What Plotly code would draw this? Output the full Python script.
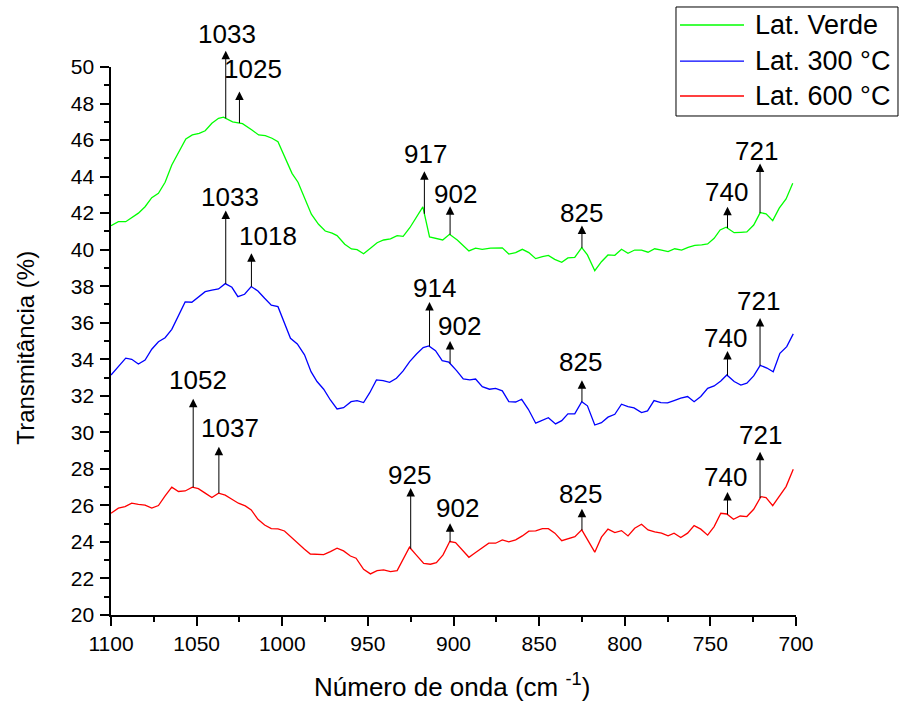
import numpy as np
import plotly.graph_objects as go

# ---------------- data ----------------
verde_x = [1100, 1095.7, 1091.4, 1087.9, 1084.0, 1080.1, 1076.2, 1072.3, 1068.4, 1064.5,
           1060.2, 1056.3, 1052.5, 1048.5, 1045.0, 1041.1, 1037.2, 1034.3, 1029.0, 1023.2,
           1017.7, 1013.8, 1009.9, 1006.0, 1002.5, 998.2, 994.3, 990.8, 987.0, 983.0,
           978.8, 974.9, 970.9, 968.0, 963.5, 959.6, 956.3, 952.5, 948.5, 944.6,
           940.8, 936.8, 932.9, 929.4, 925.5, 921.6, 917.9, 914.0, 910.1, 906.3,
           902.3, 897.8, 891.0, 887.1, 883.2, 878.4, 871.5, 867.7, 863.7, 859.8,
           856.0, 852.0, 848.1, 844.6, 840.9, 836.8, 833.2, 829.2, 825.1, 821.8,
           817.5, 813.6, 809.8, 805.8, 801.9, 798.1, 794.2, 790.2, 786.4, 782.5,
           778.5, 774.7, 770.8, 766.8, 763.0, 759.1, 755.1, 751.6, 747.8, 744.3,
           740.8, 736.1, 732.2, 728.7, 724.7, 720.9, 717.5, 713.6, 709.8, 705.8, 701.9]
verde_y = [41.31, 41.53, 41.53, 41.77, 42.00, 42.35, 42.85, 43.09, 43.69, 44.64,
           45.36, 46.06, 46.28, 46.37, 46.51, 46.92, 47.19, 47.25, 47.00, 46.90,
           46.55, 46.28, 46.24, 46.10, 45.91, 45.00, 44.18, 43.69, 42.81, 41.94,
           41.39, 41.02, 40.90, 40.77, 40.30, 40.04, 40.00, 39.78, 40.08, 40.38,
           40.53, 40.59, 40.77, 40.73, 41.20, 41.80, 42.34, 40.70, 40.62, 40.53,
           40.84, 40.53, 39.93, 40.08, 40.02, 40.08, 40.10, 39.76, 39.84, 40.02,
           39.84, 39.51, 39.62, 39.69, 39.47, 39.31, 39.55, 39.58, 40.11, 39.71,
           38.85, 39.34, 39.71, 39.69, 40.02, 39.80, 39.98, 39.97, 39.86, 40.05,
           39.98, 39.89, 40.05, 39.98, 40.13, 40.24, 40.26, 40.31, 40.62, 41.08,
           41.23, 40.93, 40.95, 40.97, 41.35, 42.03, 41.96, 41.59, 42.27, 42.78, 43.63]

c300_x = [1100, 1095.7, 1091.4, 1087.9, 1084.0, 1080.1, 1076.2, 1072.3, 1068.4, 1064.5,
          1060.6, 1056.7, 1052.8, 1049.0, 1045.0, 1041.1, 1037.2, 1033.3, 1029.4, 1025.9,
          1022.0, 1018.1, 1014.2, 1010.3, 1006.4, 1002.5, 998.7, 995.2, 991.2, 987.0,
          983.2, 979.7, 975.8, 971.9, 968.0, 964.2, 959.8, 956.3, 952.5, 948.9,
          945.0, 941.1, 937.3, 933.3, 929.4, 925.6, 921.6, 917.7, 914.4, 910.5,
          906.6, 902.7, 898.2, 894.3, 890.5, 887.1, 883.2, 879.0, 875.4, 871.5,
          867.7, 863.7, 860.2, 856.3, 852.0, 848.1, 844.6, 840.4, 836.8, 833.2,
          829.2, 825.1, 821.8, 817.5, 813.6, 809.8, 805.8, 801.9, 798.1, 794.6,
          790.2, 786.7, 782.9, 778.9, 775.0, 771.2, 767.3, 763.3, 759.5, 755.6,
          751.6, 747.8, 743.9, 740.4, 736.1, 732.2, 728.7, 724.7, 720.9, 717.0,
          713.3, 709.4, 705.4, 701.6]
c300_y = [33.14, 33.60, 34.06, 34.00, 33.74, 33.96, 34.55, 34.96, 35.18, 35.64,
          36.37, 37.14, 37.12, 37.39, 37.70, 37.79, 37.85, 38.14, 37.94, 37.43,
          37.56, 37.98, 37.74, 37.34, 36.96, 36.88, 35.97, 35.15, 34.84, 34.24,
          33.32, 32.78, 32.36, 31.77, 31.28, 31.35, 31.68, 31.74, 31.63, 32.17,
          32.87, 32.83, 32.74, 32.96, 33.36, 33.87, 34.29, 34.64, 34.73, 34.47,
          33.92, 33.84, 33.38, 32.92, 32.87, 32.92, 32.50, 32.36, 32.41, 32.27,
          31.68, 31.66, 31.81, 31.26, 30.50, 30.64, 30.80, 30.46, 30.64, 31.01,
          31.01, 31.68, 31.45, 30.40, 30.53, 30.83, 30.99, 31.54, 31.41, 31.34,
          31.08, 31.17, 31.74, 31.63, 31.61, 31.74, 31.87, 31.96, 31.68, 31.96,
          32.41, 32.54, 32.81, 33.14, 32.78, 32.59, 32.69, 33.09, 33.67, 33.52,
          33.32, 34.33, 34.69, 35.39]

c600_x = [1100, 1095.7, 1091.8, 1087.9, 1084.0, 1080.1, 1076.2, 1072.3, 1068.4, 1064.5,
          1060.6, 1056.7, 1052.5, 1049.0, 1045.0, 1041.1, 1037.2, 1033.3, 1029.4, 1025.6,
          1021.6, 1018.1, 1014.2, 1010.3, 1006.4, 1002.5, 998.7, 994.7, 990.8, 987.0,
          983.6, 979.7, 975.8, 971.9, 968.0, 964.2, 960.2, 956.9, 952.5, 948.5,
          944.6, 940.8, 936.8, 932.9, 929.4, 925.7, 921.8, 917.4, 913.5, 910.0,
          906.1, 902.2, 898.8, 894.9, 891.0, 887.1, 883.2, 879.4, 875.4, 871.5,
          867.7, 863.7, 859.8, 856.0, 852.0, 848.1, 844.6, 840.8, 836.8, 832.9,
          829.1, 825.1, 821.5, 817.5, 813.6, 809.8, 805.8, 801.9, 798.1, 794.2,
          790.2, 786.4, 782.5, 778.5, 774.7, 771.2, 767.3, 763.3, 759.5, 755.6,
          751.6, 747.8, 743.9, 740.4, 736.5, 732.6, 728.7, 724.7, 720.5, 717.5,
          713.6, 709.8, 705.8, 701.6]
c600_y = [25.57, 25.85, 25.93, 26.12, 26.06, 26.01, 25.85, 25.99, 26.52, 27.00,
          26.76, 26.79, 27.00, 26.92, 26.67, 26.43, 26.67, 26.56, 26.34, 26.12,
          25.97, 25.75, 25.24, 24.93, 24.73, 24.71, 24.60, 24.24, 23.89, 23.60,
          23.34, 23.31, 23.31, 23.47, 23.66, 23.51, 23.23, 23.11, 22.50, 22.25,
          22.43, 22.47, 22.38, 22.43, 23.05, 23.71, 23.29, 22.83, 22.78, 22.87,
          23.29, 24.02, 23.96, 23.56, 23.16, 23.42, 23.66, 23.93, 23.93, 24.11,
          24.00, 24.11, 24.33, 24.59, 24.60, 24.73, 24.73, 24.48, 24.07, 24.20,
          24.29, 24.66, 24.11, 23.44, 24.26, 24.70, 24.51, 24.62, 24.33, 24.75,
          24.97, 24.66, 24.55, 24.48, 24.33, 24.48, 24.24, 24.48, 24.89, 24.70,
          24.37, 24.84, 25.57, 25.53, 25.24, 25.42, 25.39, 25.79, 26.48, 26.43,
          25.99, 26.48, 27.03, 27.98]

series_names = ["Lat. Verde", "Lat. 300 °C", "Lat. 600 °C"]
series_colors = ["#00FF00", "#0000FF", "#FF0000"]

# peak labels per series
verde_peaks = [1033, 1025, 917, 902, 825, 740, 721]
c300_peaks = [1033, 1018, 914, 902, 825, 740, 721]
c600_peaks = [1052, 1037, 925, 902, 825, 740, 721]

# ------------- styling of the peak markers (pixels) -------------
# (arrow length, text dx, text dy above the arrow tip)
verde_style = [(69, 1, 15), (33, 14, 21), (44, 1, 16), (30, 5, 11), (24, 0, 11), (23, -1, 13), (51, -4, 11)]
c300_style = [(75, 4, 12), (35, 17, 16), (46, 5, 12), (24, 9, 14), (23, -1, 17), (26, -2, 12), (49, -2, 16)]
c600_style = [(90, 5, 17), (48, 11, 17), (62, -1, 12), (20, 7, 14), (23, -1, 13), (24, -2, 14), (48, 0, 15)]

FONT = "Liberation Sans, Arial, sans-serif"

fig = go.Figure()
all_series = [(verde_x, verde_y), (c300_x, c300_y), (c600_x, c600_y)]
for (xs, ys), name, col in zip(all_series, series_names, series_colors):
    fig.add_trace(go.Scatter(x=xs, y=ys, mode="lines", name=name,
                             line=dict(color=col, width=1.3), showlegend=False))

annotations = []
for (xs, ys), peaks, styles in zip(all_series, [verde_peaks, c300_peaks, c600_peaks],
                                   [verde_style, c300_style, c600_style]):
    xa = np.array(xs)[::-1]
    ya = np.array(ys)[::-1]
    for p, (L, dx, dy) in zip(peaks, styles):
        yv = float(np.interp(p, xa, ya))
        annotations.append(dict(x=p, y=yv, xref="x", yref="y", text="", showarrow=True,
                                ax=0, ay=-L, arrowside="start", arrowhead=2, arrowsize=1.7,
                                startarrowhead=2, startarrowsize=1.7,
                                arrowwidth=1, arrowcolor="black", standoff=0, startstandoff=0))
        annotations.append(dict(x=p, y=yv, xref="x", yref="y", text=str(p), showarrow=False,
                                xshift=dx, yshift=L + dy, xanchor="center", yanchor="middle",
                                font=dict(family=FONT, size=26, color="black")))

# axis titles
annotations.append(dict(x=-0.124, y=0.488, xref="paper", yref="paper", text="Transmitância (%)",
                        textangle=-90, showarrow=False, xanchor="center", yanchor="middle",
                        font=dict(family=FONT, size=24, color="black")))
annotations.append(dict(x=0.4978, y=-0.129, xref="paper", yref="paper",
                        text="Número de onda (cm <sup>-1</sup>)",
                        showarrow=False, xanchor="center", yanchor="middle",
                        font=dict(family=FONT, size=26, color="black")))

# legend (drawn manually to match the long line samples)
shapes = [dict(type="rect", xref="paper", yref="paper", x0=0.8248, x1=1.1489, y0=0.9106, y1=1.1095,
               line=dict(color="black", width=1), fillcolor="white", layer="above")]
legend_rows = [1.0766, 1.0109, 0.9471]
for name, col, yy in zip(series_names, series_colors, legend_rows):
    shapes.append(dict(type="line", xref="paper", yref="paper", x0=0.8306, x1=0.9241, y0=yy, y1=yy,
                       line=dict(color=col, width=1.3)))
    annotations.append(dict(x=0.9372, y=yy, xref="paper", yref="paper", text=name, showarrow=False,
                            xanchor="left", yanchor="middle",
                            font=dict(family=FONT, size=27, color="black")))

axis_common = dict(showline=True, linecolor="black", linewidth=1.5, mirror=False,
                   showgrid=False, zeroline=False, ticks="outside", ticklen=9, tickwidth=1.5,
                   tickcolor="black", tickfont=dict(family=FONT, size=21, color="black"))

fig.update_layout(
    width=899, height=706,
    margin=dict(l=111, r=103, t=67, b=91),
    paper_bgcolor="white", plot_bgcolor="white",
    xaxis=dict(range=[1100, 700], tickmode="linear", tick0=700, dtick=50, ticklabelstandoff=0,
               minor=dict(ticks="outside", ticklen=5, tickwidth=1.5, tickcolor="black", dtick=25, tick0=700),
               **axis_common),
    yaxis=dict(range=[20, 50], tickmode="linear", tick0=20, dtick=2, ticklabelstandoff=-4,
               ticksuffix=" ",
               minor=dict(ticks="outside", ticklen=5, tickwidth=1.5, tickcolor="black", dtick=1, tick0=20),
               **axis_common),
    annotations=annotations,
    shapes=shapes,
    showlegend=False,
)

fig.write_html("out.html")
